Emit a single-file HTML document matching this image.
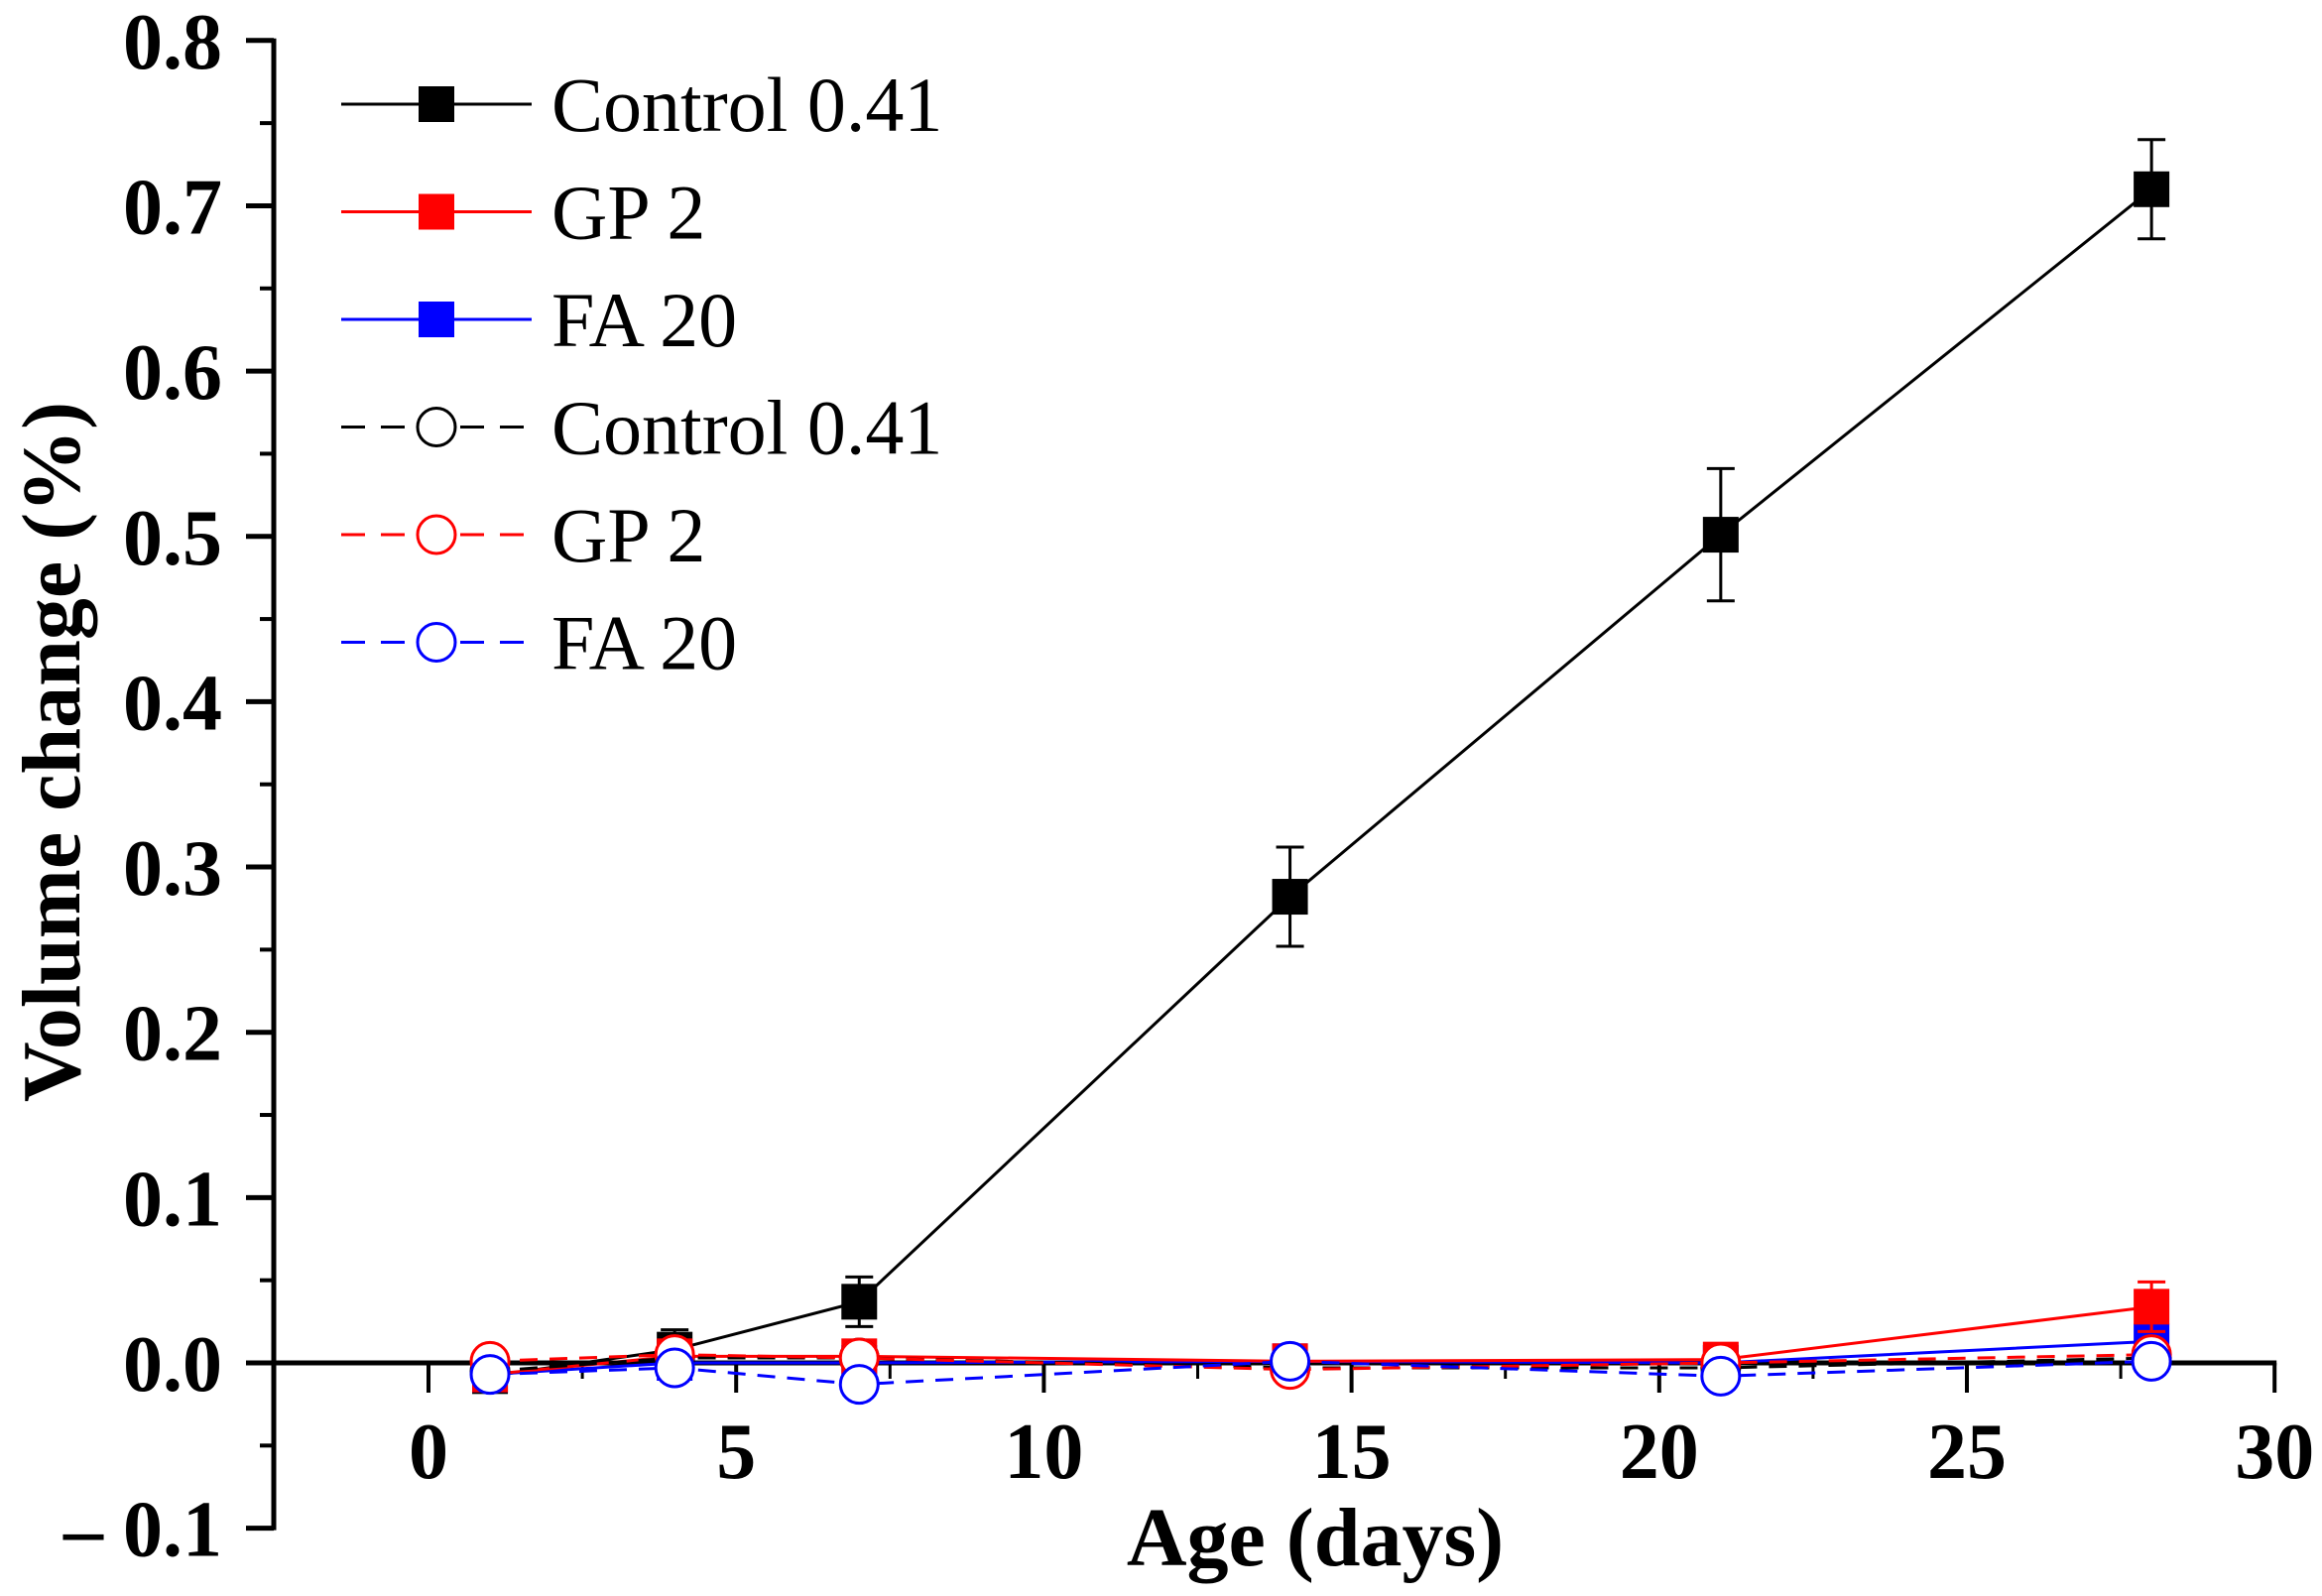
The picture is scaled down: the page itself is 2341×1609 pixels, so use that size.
<!DOCTYPE html>
<html><head><meta charset="utf-8"><style>
html,body{margin:0;padding:0;background:#fff}
svg{display:block}
text{font-family:"Liberation Serif",serif}
</style></head><body>
<svg id="chart" width="2341" height="1609" viewBox="0 0 2341 1609" xmlns="http://www.w3.org/2000/svg">
<g id="axes"></g>
<g id="series"></g>
<g id="legend"></g>
<text x="1326" y="1578" font-size="84" font-weight="bold" text-anchor="middle">Age (days)</text>
<text transform="translate(80,758) rotate(-90)" font-size="84" font-weight="bold" text-anchor="middle">Volume change (%)</text>
</svg>
<script>
const days = [1, 4, 7, 14, 21, 28];
const controlSolid = [-0.008, 0.008, 0.037, 0.282, 0.501, 0.710];
const controlSolidErr = [0.004, 0.012, 0.015, 0.030, 0.040, 0.030];
const gpSolid = [-0.007, 0.004, 0.004, 0.001, 0.002, 0.034];
const gpSolidErr = [0.003, 0.004, 0.004, 0.003, 0.003, 0.015];
const faSolid = [-0.007, 0.000, 0.000, 0.001, 0.000, 0.013];
const faSolidErr = [0.006, 0.003, 0.003, 0.003, 0.003, 0.008];
const controlDash = [-0.005, 0.003, 0.003, -0.003, -0.003, 0.003];
const gpDash = [0.001, 0.005, 0.003, -0.004, 0.000, 0.005];
const faDash = [-0.007, -0.003, -0.013, 0.001, -0.008, 0.001];
const xTicks = [0, 5, 10, 15, 20, 25, 30];
const yTicks = [-0.1, 0.0, 0.1, 0.2, 0.3, 0.4, 0.5, 0.6, 0.7, 0.8];
const legendLabels = ["Control 0.41", "GP 2", "FA 20", "Control 0.41", "GP 2", "FA 20"];

const NS = "http://www.w3.org/2000/svg";
const X = d => 432 + d * 62.04;
const Y = v => 1374 - v * 1666.5;
function mk(tag, attrs, parent) {
  const e = document.createElementNS(NS, tag);
  for (const k in attrs) e.setAttribute(k, attrs[k]);
  parent.appendChild(e);
  return e;
}
const axes = document.getElementById('axes');
const ser = document.getElementById('series');
const leg = document.getElementById('legend');

let ya = mk('line', {x1: 276, y1: Y(0.8) - 2, x2: 276, y2: Y(-0.1) + 2, stroke: '#000', 'stroke-width': 5}, axes);


let xa = mk('line', {x1: 274, y1: Y(0), x2: X(30) + 2, y2: Y(0), stroke: '#000', 'stroke-width': 5}, axes);



yTicks.forEach((v, i) => {
  const t = mk('line', {x1: 248, y1: Y(v), x2: 276, y2: Y(v), stroke: '#000', 'stroke-width': 5}, axes);
  
  
  if (i < yTicks.length - 1) {
    mk('line', {x1: 262, y1: Y(v + 0.05), x2: 276, y2: Y(v + 0.05), stroke: '#000', 'stroke-width': 4}, axes);
  }
  const lb = mk('text', {x: 224, y: Y(v) + 28, 'font-size': 80, 'font-weight': 'bold', 'text-anchor': 'end'}, axes);
  lb.textContent = v === 0 ? '0.0' : (v < 0 ? '\u2013 ' + Math.abs(v).toFixed(1) : v.toFixed(1));
  
  
});
xTicks.forEach((d, i) => {
  const t = mk('line', {x1: X(d), y1: Y(0), x2: X(d), y2: Y(0) + 30, stroke: '#000', 'stroke-width': 4}, axes);
  
  
  if (i < xTicks.length - 1) {
    mk('line', {x1: X(d + 2.5), y1: Y(0), x2: X(d + 2.5), y2: Y(0) + 16, stroke: '#000', 'stroke-width': 3}, axes);
  }
  const lb = mk('text', {x: X(d), y: 1490, 'font-size': 80, 'font-weight': 'bold', 'text-anchor': 'middle'}, axes);
  lb.textContent = String(d);
  
  
});

function drawSeries(name, vals, err, color, dashed) {
  const g = mk('g', {}, ser);
  
  
  const pts = vals.map((v, i) => X(days[i]) + ',' + Y(v)).join(' ');
  mk('polyline', {points: pts, fill: 'none', stroke: color, 'stroke-width': 3, 'stroke-dasharray': dashed ? '18,12' : 'none'}, g);
  vals.forEach((v, i) => {
    const cx = X(days[i]), cy = Y(v);
    if (err) {
      const e = err[i];
      mk('line', {x1: cx, y1: Y(v + e), x2: cx, y2: Y(v - e), stroke: color, 'stroke-width': 3}, g);
      mk('line', {x1: cx - 14, y1: Y(v + e), x2: cx + 14, y2: Y(v + e), stroke: color, 'stroke-width': 3}, g);
      mk('line', {x1: cx - 14, y1: Y(v - e), x2: cx + 14, y2: Y(v - e), stroke: color, 'stroke-width': 3}, g);
    }
    let m;
    if (dashed) m = mk('circle', {cx: cx, cy: cy, r: 19, fill: '#fff', stroke: color, 'stroke-width': 3}, g);
    else m = mk('rect', {x: cx - 18, y: cy - 18, width: 36, height: 36, fill: color}, g);
    
    
  });
}
drawSeries('control-solid-series', controlSolid, controlSolidErr, '#000', false);
drawSeries('fa20-solid-series', faSolid, faSolidErr, '#0000ff', false);
drawSeries('gp2-solid-series', gpSolid, gpSolidErr, '#ff0000', false);
drawSeries('control-dashed-series', controlDash, null, '#000', true);
drawSeries('gp2-dashed-series', gpDash, null, '#ff0000', true);
drawSeries('fa20-dashed-series', faDash, null, '#0000ff', true);

const legColors = ['#000', '#ff0000', '#0000ff', '#000', '#ff0000', '#0000ff'];
legendLabels.forEach((lab, i) => {
  const y = 105 + i * 108.5;
  const dashed = i >= 3;
  const g = mk('g', {}, leg);
  
  
  if (dashed) {
    mk('line', {x1: 344, y1: y, x2: 530, y2: y, stroke: legColors[i], 'stroke-width': 3, 'stroke-dasharray': '24,16'}, g);
    mk('circle', {cx: 440, cy: y, r: 19, fill: '#fff', stroke: legColors[i], 'stroke-width': 3}, g);
  } else {
    mk('line', {x1: 344, y1: y, x2: 536, y2: y, stroke: legColors[i], 'stroke-width': 3}, g);
    mk('rect', {x: 422, y: y - 18, width: 36, height: 36, fill: legColors[i]}, g);
  }
  const t = mk('text', {x: 556, y: y + 27, 'font-size': 78}, g);
  t.textContent = lab;
  
  
});
</script>
</body></html>
